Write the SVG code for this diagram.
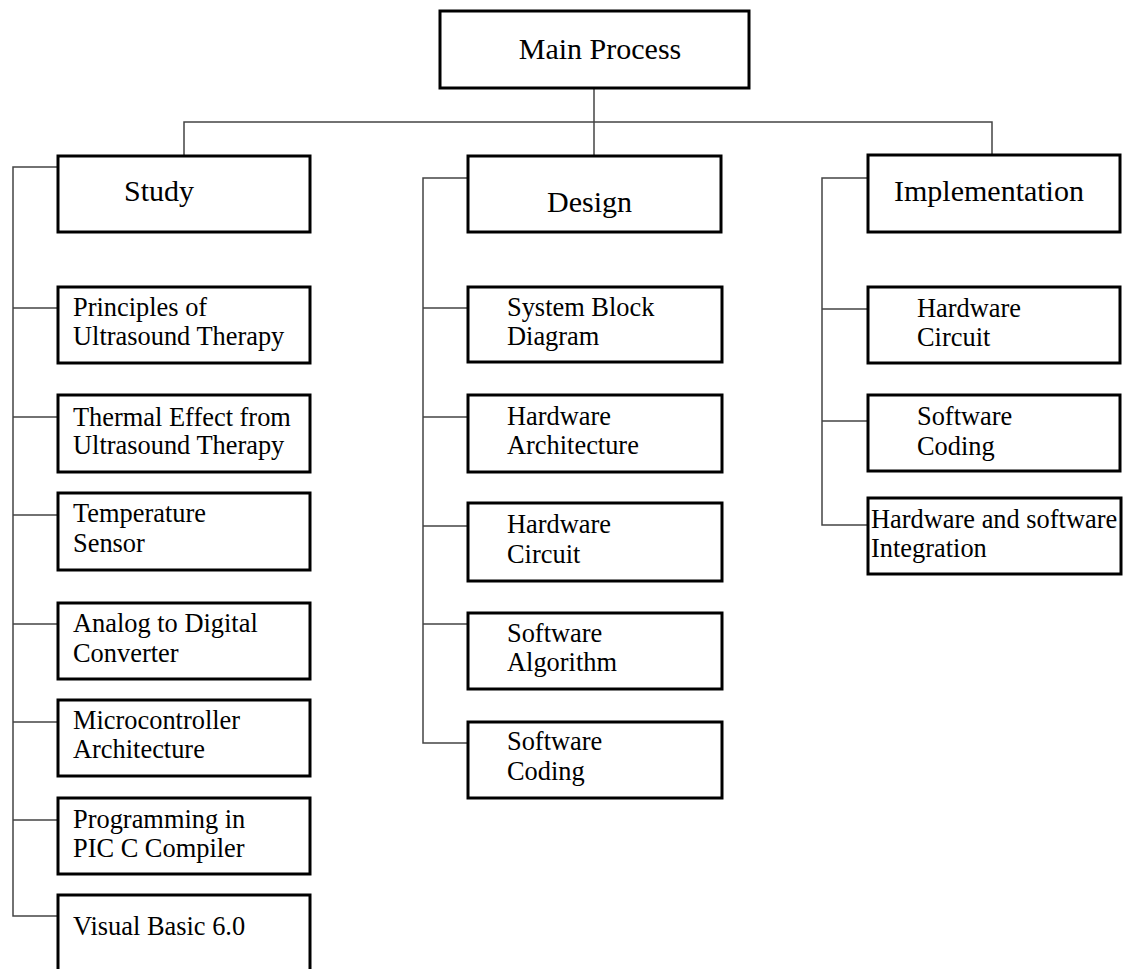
<svg xmlns="http://www.w3.org/2000/svg" width="1125" height="969" viewBox="0 0 1125 969">
  <style>
    .box { fill: #ffffff; stroke: #000000; stroke-width: 3; }
    .wire { fill: none; stroke: #444444; stroke-width: 1.5; }
    .head { font-family: "Liberation Serif", "Times New Roman", serif; font-size: 30px; fill: #000000; }
    .item { font-family: "Liberation Serif", "Times New Roman", serif; font-size: 26.4px; fill: #000000; }
  </style>
  <rect width="1125" height="969" fill="#ffffff"/>

  <!-- connectors -->
  <g id="connectors">
    <path class="wire" d="M594,88 V156"/>
    <path class="wire" d="M184,156 V122 H992 V155"/>
    <!-- Study branch -->
    <path class="wire" d="M58,167 H13 V916 H58"/>
    <path class="wire" d="M13,308 H58 M13,417 H58 M13,515 H58 M13,624 H58 M13,722 H58 M13,820 H58"/>
    <!-- Design branch -->
    <path class="wire" d="M468,178 H423 V743 H468"/>
    <path class="wire" d="M423,308 H468 M423,417 H468 M423,526 H468 M423,624 H468"/>
    <!-- Implementation branch -->
    <path class="wire" d="M868,178 H822 V525 H868"/>
    <path class="wire" d="M822,309 H868 M822,421 H868"/>
  </g>

  <g id="main-process">
    <rect class="box" x="440" y="11" width="309" height="77"/>
    <text class="head" x="600" y="59" text-anchor="middle">Main Process</text>
  </g>

  <g id="study">
    <rect class="box" x="58" y="156" width="252" height="76"/>
    <text class="head" x="124" y="201">Study</text>
  </g>
  <g id="design">
    <rect class="box" x="468" y="156" width="253" height="76"/>
    <text class="head" x="547" y="212">Design</text>
  </g>
  <g id="implementation">
    <rect class="box" x="868" y="155" width="252" height="77"/>
    <text class="head" x="894" y="201">Implementation</text>
  </g>

  <!-- Study items -->
  <g id="study-principles">
    <rect class="box" x="58" y="287" width="252" height="76"/>
    <text class="item" x="73" y="316">Principles of</text>
    <text class="item" x="73" y="345">Ultrasound Therapy</text>
  </g>
  <g id="study-thermal">
    <rect class="box" x="58" y="395" width="252" height="77"/>
    <text class="item" x="73" y="426">Thermal Effect from</text>
    <text class="item" x="73" y="454">Ultrasound Therapy</text>
  </g>
  <g id="study-sensor">
    <rect class="box" x="58" y="493" width="252" height="77"/>
    <text class="item" x="73" y="522">Temperature</text>
    <text class="item" x="73" y="552">Sensor</text>
  </g>
  <g id="study-adc">
    <rect class="box" x="58" y="603" width="252" height="76"/>
    <text class="item" x="73" y="632">Analog to Digital</text>
    <text class="item" x="73" y="662">Converter</text>
  </g>
  <g id="study-mcu">
    <rect class="box" x="58" y="700" width="252" height="76"/>
    <text class="item" x="73" y="729">Microcontroller</text>
    <text class="item" x="73" y="758">Architecture</text>
  </g>
  <g id="study-picc">
    <rect class="box" x="58" y="798" width="252" height="76"/>
    <text class="item" x="73" y="828">Programming in</text>
    <text class="item" x="73" y="857">PIC C Compiler</text>
  </g>
  <g id="study-vb">
    <rect class="box" x="58" y="895" width="252" height="85"/>
    <text class="item" x="73" y="935">Visual Basic 6.0</text>
  </g>

  <!-- Design items -->
  <g id="design-block">
    <rect class="box" x="468" y="287" width="254" height="75"/>
    <text class="item" x="507" y="316">System Block</text>
    <text class="item" x="507" y="345">Diagram</text>
  </g>
  <g id="design-hw-arch">
    <rect class="box" x="468" y="395" width="254" height="77"/>
    <text class="item" x="507" y="425">Hardware</text>
    <text class="item" x="507" y="454">Architecture</text>
  </g>
  <g id="design-hw-circuit">
    <rect class="box" x="468" y="503" width="254" height="78"/>
    <text class="item" x="507" y="533">Hardware</text>
    <text class="item" x="507" y="563">Circuit</text>
  </g>
  <g id="design-sw-algo">
    <rect class="box" x="468" y="613" width="254" height="76"/>
    <text class="item" x="507" y="642">Software</text>
    <text class="item" x="507" y="671">Algorithm</text>
  </g>
  <g id="design-sw-coding">
    <rect class="box" x="468" y="722" width="254" height="76"/>
    <text class="item" x="507" y="750">Software</text>
    <text class="item" x="507" y="780">Coding</text>
  </g>

  <!-- Implementation items -->
  <g id="impl-hw-circuit">
    <rect class="box" x="868" y="287" width="252" height="76"/>
    <text class="item" x="917" y="317">Hardware</text>
    <text class="item" x="917" y="346">Circuit</text>
  </g>
  <g id="impl-sw-coding">
    <rect class="box" x="868" y="395" width="252" height="76"/>
    <text class="item" x="917" y="425">Software</text>
    <text class="item" x="917" y="455">Coding</text>
  </g>
  <g id="impl-integration">
    <rect class="box" x="868" y="498" width="253" height="76"/>
    <text class="item" x="871" y="528">Hardware and software</text>
    <text class="item" x="871" y="557">Integration</text>
  </g>
</svg>
